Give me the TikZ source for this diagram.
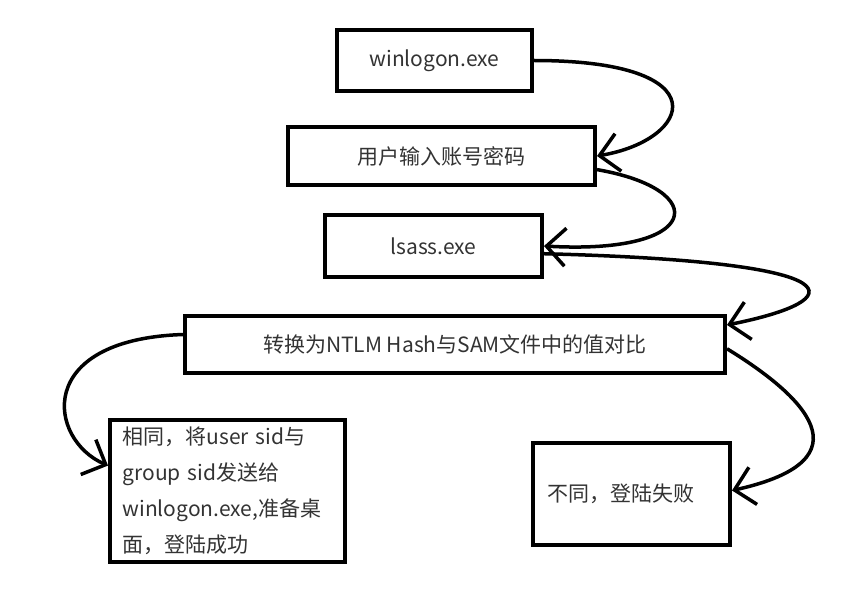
\documentclass[tikz,border=0pt]{standalone}
\usepackage{fontspec}
\setmainfont{Noto Sans CJK SC}
\usetikzlibrary{arrows.meta}

\begin{document}
\begin{tikzpicture}[x=1pt,y=-1pt,
  box/.style={draw,line width=4pt,inner sep=0pt,text=black!80,
    font=\fontsize{21}{36}\selectfont},
  flow/.style={line width=3.5pt,-{Straight Barb[length=19pt,width=38pt]}}]
\useasboundingbox (0,0) rectangle (864,596);
\node (winlogon) at (434.5,60.5) [box,minimum width=195pt,minimum height=61pt] {winlogon.exe};
\node (user) at (441.5,156) [box,minimum width=307pt,minimum height=58pt] {用户输入账号密码};
\node (lsass) at (433.5,246) [box,minimum width=217pt,minimum height=62pt] {lsass.exe};
\node (compare) at (455,344) [box,minimum width=540pt,minimum height=57pt] {转换为NTLM Hash与SAM文件中的值对比};
\node (success) at (227.5,491) [box,minimum width=235pt,minimum height=142pt,
  text width=210pt,inner xsep=12.5pt,align=left]
  {相同，将user sid与\\group sid发送给\\winlogon.exe,准备桌\\面，登陆成功};
\node (fail) at (631.5,494) [box,minimum width=197pt,minimum height=102pt,
  text width=169pt,inner xsep=14pt,align=left] {不同，登陆失败};
\draw [flow] (winlogon.east) .. controls +(188,0) and +(95,-16) .. (user.east);
\draw [flow] (user.-5) .. controls +(115,20) and +(158,9) .. (lsass.east);
\draw [flow] (lsass.-4) .. controls +(318,8) and +(125,-25) .. (compare.4);
\draw [flow] (compare.178) .. controls +(-150,5) and +(-60,-26) .. (success.168);
\draw [flow] (compare.-1) .. controls +(75,46) and +(140,-31) .. (fail.2);
\end{tikzpicture}
\end{document}
